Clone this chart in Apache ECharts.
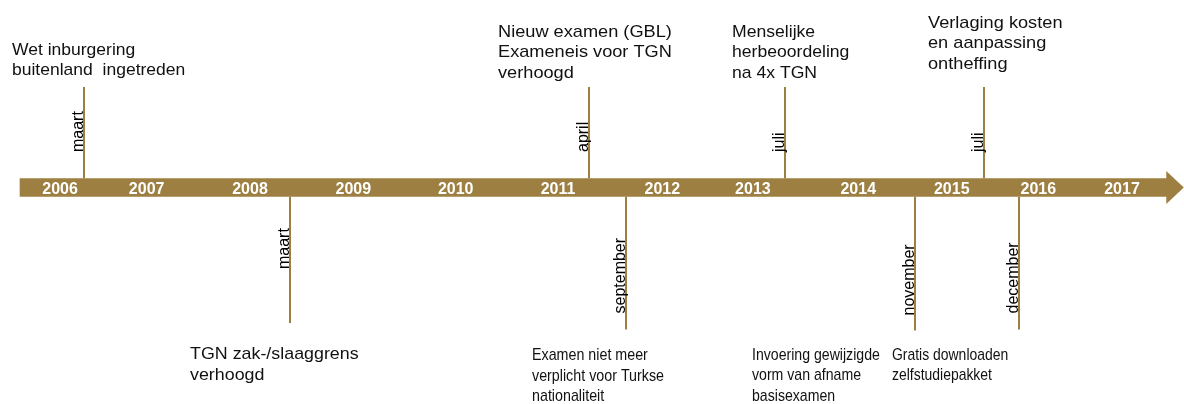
<!DOCTYPE html>
<html><head><meta charset="utf-8">
<script src="https://cdn.jsdelivr.net/npm/echarts@6/dist/echarts.min.js"></script>
<style>html,body{margin:0;padding:0;background:#fff}#c{width:1184px;height:404px}</style>
</head><body><div id="c"></div>
<script>
const years = [2006, 2007, 2008, 2009, 2010, 2011, 2012, 2013, 2014, 2015, 2016, 2017];
const yearLabelAt = [2006.01, 2006.89, 2007.94, 2008.99, 2010.03, 2011.07, 2012.13, 2013.05, 2014.12, 2015.07, 2015.95, 2016.80];
const eventAt = [2006.25, 2008.35, 2011.385, 2011.76, 2013.376, 2014.697, 2015.398, 2015.753];
const eventMonth = ['maart', 'maart', 'april', 'september', 'juli', 'november', 'juli', 'december'];
const eventSide = ['boven', 'onder', 'boven', 'onder', 'boven', 'onder', 'boven', 'onder'];
const eventText = [
  'Wet inburgering\nbuitenland  ingetreden',
  'TGN zak-/slaaggrens\nverhoogd',
  'Nieuw examen (GBL)\nExameneis voor TGN\nverhoogd',
  'Examen niet meer\nverplicht voor Turkse\nnationaliteit',
  'Menselijke\nherbeoordeling\nna 4x TGN',
  'Invoering gewijzigde\nvorm van afname\nbasisexamen',
  'Verlaging kosten\nen aanpassing\nontheffing',
  'Gratis downloaden\nzelfstudiepakket'
];
const timelineStart = 2005.6, timelineEnd = 2017.25;

// ---- layout (pixels, relative to the event line / band centre) ----
const GOLD = '#9D7F42';
const layout = [
  {dx: -72,  capTop: -144.8, month: -35.5, end: -100.5, sx: 1.03},
  {dx: -100, capTop: 159.8,  month: 81.5,  end: 135.5,  sx: 1.05},
  {dx: -91,  capTop: -162.5, month: -35.5, end: -100.5, sx: 1.07},
  {dx: -94,  capTop: 160.8,  month: 126,   end: 142,    sx: 0.84},
  {dx: -53,  capTop: -162.5, month: -35.5, end: -100.5, sx: 1.035},
  {dx: -163, capTop: 160.5,  month: 128,   end: 143,    sx: 0.83},
  {dx: -56,  capTop: -171.8, month: -35.5, end: -100.5, sx: 1.07},
  {dx: -127, capTop: 160.5,  month: 126,   end: 142,    sx: 0.82}
];
const HALF = 9.3;

const chart = echarts.init(document.getElementById('c'), null, {renderer: 'canvas'});
chart.setOption({
  animation: false,
  grid: {left: 0, right: 0, top: 0, height: 375},
  xAxis: {type: 'value', min: 2005.4, max: 2017.43, show: false},
  yAxis: {type: 'value', min: -1, max: 1, show: false},
  series: [
    {
      type: 'custom', z: 1,
      data: [[timelineStart, timelineEnd]],
      renderItem: function (params, api) {
        const a = api.coord([api.value(0), 0]);
        const b = api.coord([api.value(1), 0]);
        const cy = a[1];
        return {
          type: 'polygon',
          shape: {points: [
            [a[0], cy - HALF], [b[0], cy - HALF], [b[0], cy - 16.5], [b[0] + 17.5, cy],
            [b[0], cy + 16.5], [b[0], cy + HALF], [a[0], cy + HALF]
          ]},
          style: {fill: GOLD}
        };
      }
    },
    {
      type: 'custom', z: 3,
      data: yearLabelAt.map((t, i) => [t, 0, i]),
      renderItem: function (params, api) {
        const p = api.coord([api.value(0), 0]);
        return {
          type: 'text',
          style: {
            x: p[0], y: p[1] + 2, text: String(years[api.value(2)]),
            align: 'center', verticalAlign: 'middle',
            font: 'bold 16px "Liberation Sans", Arial, sans-serif', fill: '#ffffff'
          }
        };
      }
    },
    {
      type: 'custom', z: 2,
      data: eventAt.map((t, i) => [t, 0, i]),
      renderItem: function (params, api) {
        const i = api.value(2);
        const p = api.coord([api.value(0), 0]);
        const x = Math.round(p[0]);
        const cy = p[1];
        const L = layout[i];
        const up = eventSide[i] === 'boven';
        const y0 = up ? cy - HALF : cy + HALF;
        return {
          type: 'group',
          children: [
            {type: 'line', shape: {x1: x, y1: y0, x2: x, y2: cy + L.end},
             style: {stroke: GOLD, lineWidth: 2}},
            {type: 'text', x: x + 3, y: cy + L.month, rotation: Math.PI / 2,
             style: {text: eventMonth[i], align: 'left', verticalAlign: 'bottom',
                     font: '16px "Liberation Sans", Arial, sans-serif', fill: '#000'}},
            {type: 'text', x: x + L.dx, y: cy + L.capTop - 3, scaleX: L.sx, scaleY: 1,
             style: {x: 0, y: 0, text: eventText[i],
                     align: 'left', verticalAlign: 'top', lineHeight: 20.5,
                     font: '17px "Liberation Sans", Arial, sans-serif', fill: '#111'}}
          ]
        };
      }
    }
  ]
});
</script></body></html>
